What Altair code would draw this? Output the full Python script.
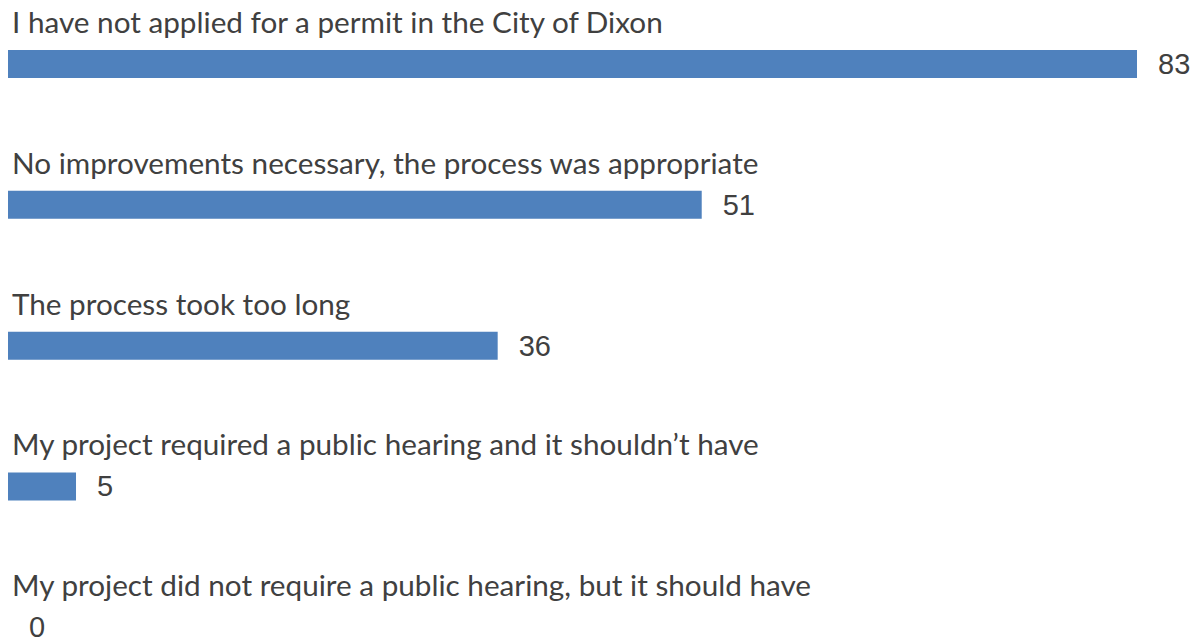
import altair as alt
import pandas as pd

categories = [
    "I have not applied for a permit in the City of Dixon",
    "No improvements necessary, the process was appropriate",
    "The process took too long",
    "My project required a public hearing and it shouldn\u2019t have",
    "My project did not require a public hearing, but it should have",
]
values = [83, 51, 36, 5, 0]

df = pd.DataFrame({
    "category": categories,
    "value": values,
    "idx": list(range(len(categories))),
    "zero": [0] * len(categories),
})

# 83 spans 1129 px; plot is 1186 px wide
xscale = alt.Scale(domain=[0, 83 * 1186 / 1129], nice=False, zero=True, padding=0)
y = alt.Y(
    "idx:Q",
    scale=alt.Scale(domain=[-0.3976, 4.090], reverse=True, nice=False, zero=False, padding=0),
    axis=None,
)

base = alt.Chart(df)

bars = base.mark_bar(height=28, orient="horizontal", color="#4F81BD").encode(
    x=alt.X("value:Q", scale=xscale, axis=None),
    x2="zero:Q",
    y=y,
)

cat_labels = base.mark_text(
    align="left", baseline="alphabetic", dx=4, dy=-31,
    font="Lato", fontSize=29.7, color="#404040"
).encode(x=alt.X("zero:Q", scale=xscale, axis=None), y=y, text="category:N")

val_labels = base.mark_text(
    align="left", baseline="middle", dx=21, dy=1,
    font="Liberation Sans", fontSize=29, color="#404040"
).encode(x=alt.X("value:Q", scale=xscale, axis=None), y=y, text="value:Q")

chart = alt.layer(bars, cat_labels, val_labels).properties(
    width=1186, height=632, padding=0, autosize=alt.AutoSizeParams(type="none")
).configure_view(stroke=None)

chart.save("out.html", embed_options={"renderer": "svg", "actions": False})
